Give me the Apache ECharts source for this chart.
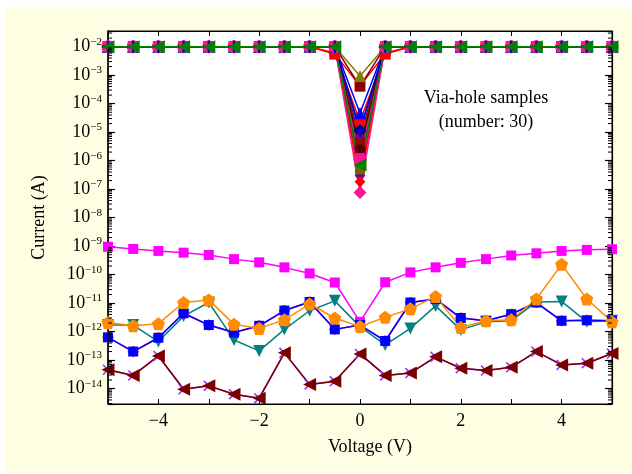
<!DOCTYPE html>
<html><head><meta charset="utf-8">
<script src="https://cdn.jsdelivr.net/npm/echarts@6/dist/echarts.min.js"></script>
<style>html,body{margin:0;padding:0;background:#fff}#c{width:632px;height:474px}</style>
</head><body><div id="c"></div><script>
const voltages = [-5,-4.5,-4,-3.5,-3,-2.5,-2,-1.5,-1,-0.5,0,0.5,1,1.5,2,2.5,3,3.5,4,4.5,5];
const P = 1e-2;
// Upper cluster (23 samples): saturated ~1e-2 except near 0 V
const top01 = [P,P,P,P,P,P,P,P,P,5.5e-3,4.2e-4,5.5e-3,P,P,P,P,P,P,P,P,P];
const top02 = [P,P,P,P,P,P,P,P,P,P,4.0e-4,P,P,P,P,P,P,P,P,P,P];
const top03 = [P,P,P,P,P,P,P,P,P,P,9.3e-4,P,P,P,P,P,P,P,P,P,P];
const top04 = [P,P,P,P,P,P,P,P,P,P,4.6e-5,P,P,P,P,P,P,P,P,P,P];
const top05 = [P,P,P,P,P,P,P,P,P,6.0e-3,2.3e-5,6.0e-3,P,P,P,P,P,P,P,P,P];
const top06 = [P,P,P,P,P,P,P,P,P,P,1.2e-5,P,P,P,P,P,P,P,P,P,P];
const top07 = [P,P,P,P,P,P,P,P,P,P,6.0e-6,P,P,P,P,P,P,P,P,P,P];
const top08 = [P,P,P,P,P,P,P,P,P,P,4.0e-6,P,P,P,P,P,P,P,P,P,P];
const top09 = [P,P,P,P,P,P,P,P,P,P,3.0e-6,P,P,P,P,P,P,P,P,P,P];
const top10 = [P,P,P,P,P,P,P,P,P,P,2.0e-6,P,P,P,P,P,P,P,P,P,P];
const top11 = [P,P,P,P,P,P,P,P,P,P,1.5e-6,P,P,P,P,P,P,P,P,P,P];
const top12 = [P,P,P,P,P,P,P,P,P,P,1.0e-6,P,P,P,P,P,P,P,P,P,P];
const top13 = [P,P,P,P,P,P,P,P,P,P,8.0e-7,P,P,P,P,P,P,P,P,P,P];
const top14 = [P,P,P,P,P,P,P,P,P,P,6.0e-7,P,P,P,P,P,P,P,P,P,P];
const top15 = [P,P,P,P,P,P,P,P,P,P,4.0e-7,P,P,P,P,P,P,P,P,P,P];
const top16 = [P,P,P,P,P,P,P,P,P,P,3.0e-7,P,P,P,P,P,P,P,P,P,P];
const top17 = [P,P,P,P,P,P,P,P,P,P,7.6e-8,P,P,P,P,P,P,P,P,P,P];
const top18 = [P,P,P,P,P,P,P,P,P,P,1.8e-7,P,P,P,P,P,P,P,P,P,P];
const top19 = [P,P,P,P,P,P,P,P,P,P,5.0e-7,P,P,P,P,P,P,P,P,P,P];
const top20 = [P,P,P,P,P,P,P,P,P,P,2.5e-6,P,P,P,P,P,P,P,P,P,P];
const top21 = [P,P,P,P,P,P,P,P,P,P,1.1e-5,P,P,P,P,P,P,P,P,P,P];
const top22 = [P,P,P,P,P,P,P,P,P,P,1.1e-6,P,P,P,P,P,P,P,P,P,P];
const top23 = [P,P,P,P,P,P,P,P,P,P,7.0e-7,P,P,P,P,P,P,P,P,P,P];
// Lower cluster (7 samples)
const magentaSq = [9.5e-10,8e-10,6.8e-10,5.9e-10,4.9e-10,3.5e-10,2.7e-10,1.8e-10,1.1e-10,5.3e-11,2.2e-12,5.4e-11,1.2e-10,1.8e-10,2.6e-10,3.5e-10,4.7e-10,5.6e-10,6.8e-10,7.4e-10,7.8e-10];
const tealTri = [1.7e-12,1.7e-12,4.5e-13,3.5e-12,1.05e-11,5.1e-13,2.1e-13,1.2e-12,5.4e-12,1.2e-11,1.5e-12,3.4e-13,1.3e-12,8e-12,1.15e-12,2.2e-12,2.4e-12,1.1e-11,1.15e-11,2.2e-12,2.4e-12];
const pinkPlus = [6.3e-13,2e-13,6.1e-13,4.4e-12,1.7e-12,9.3e-13,1.6e-12,5.5e-12,1.1e-11,1.2e-12,1.7e-12,4.7e-13,1.05e-11,1.4e-11,3e-12,2.4e-12,4.1e-12,1.05e-11,2.4e-12,2.5e-12,2.4e-12];
const blueSq = [6.3e-13,2e-13,6.1e-13,4.4e-12,1.7e-12,9.3e-13,1.6e-12,5.5e-12,1.1e-11,1.2e-12,1.7e-12,4.7e-13,1.05e-11,1.4e-11,3e-12,2.4e-12,4.1e-12,1.05e-11,2.4e-12,2.5e-12,2.4e-12];
const orangePent = [2.1e-12,1.6e-12,1.9e-12,1.05e-11,1.3e-11,1.8e-12,1.3e-12,2.6e-12,9.3e-12,3e-12,1.5e-12,3.2e-12,6.3e-12,1.7e-11,1.4e-12,2.4e-12,2.6e-12,1.4e-11,2.3e-10,1.4e-11,2.2e-12];
const purpleX = [4.6e-14,2.9e-14,1.4e-13,9.5e-15,1.25e-14,6.3e-15,4.6e-15,1.8e-13,1.4e-14,1.8e-14,1.65e-13,2.9e-14,3.5e-14,1.3e-13,5.2e-14,4.3e-14,5.6e-14,2e-13,6.8e-14,7.8e-14,1.7e-13];
const darkRedTri = [4.6e-14,2.9e-14,1.4e-13,9.5e-15,1.25e-14,6.3e-15,4.6e-15,1.8e-13,1.4e-14,1.8e-14,1.65e-13,2.9e-14,3.5e-14,1.3e-13,5.2e-14,4.3e-14,5.6e-14,2e-13,6.8e-14,7.8e-14,1.7e-13];

const xMin = -5, xMax = 5;
const yMinExp = -14.54, yMaxExp = -1.45;
const yMin = Math.pow(10, yMinExp), yMax = Math.pow(10, yMaxExp);

const PENT = 'path://M0,-10 L9.51,-3.09 L5.88,8.09 L-5.88,8.09 L-9.51,-3.09 Z';
const XMARK = 'path://M-5,-4 L-4,-5 L0,-1 L4,-5 L5,-4 L1,0 L5,4 L4,5 L0,1 L-4,5 L-5,4 L-1,0 Z';
const PLUS = 'path://M-1,-5 H1 V-1 H5 V1 H1 V5 H-1 V1 H-5 V-1 H-1 Z';

function mk(data, color, symbol, size, rot, lw) {
  return {
    type: 'line', xAxisIndex: 0, yAxisIndex: 0,
    data: voltages.map((v, i) => [v, data[i]]),
    symbol: symbol, symbolSize: size, symbolRotate: rot || 0,
    lineStyle: {color: color, width: lw || 1.5},
    itemStyle: {color: color},
    showSymbol: true, animation: false, clip: false
  };
}

const series = [
  mk(top01, '#FF0000', 'rect', 11),
  mk(top05, '#FF0000', 'circle', 12),
  mk(top02, '#8B0000', 'rect', 10),
  mk(top03, '#808000', 'triangle', 12),
  mk(top04, '#0000FF', 'triangle', 12),
  mk(top06, '#000080', 'diamond', 12),
  mk(top07, '#800080', 'circle', 10),
  mk(top08, '#A00000', 'rect', 10),
  mk(top09, '#006400', 'triangle', 11),
  mk(top10, '#800000', 'triangle', 11, 90),
  mk(top11, '#FF00FF', 'circle', 10),
  mk(top12, '#000080', 'rect', 10),
  mk(top13, '#0000FF', 'circle', 10),
  mk(top14, '#008080', 'triangle', 11),
  mk(top15, '#808000', 'triangle', 11, 180),
  mk(top16, '#800080', 'diamond', 11),
  mk(top18, '#FF0000', 'diamond', 11),
  mk(top19, '#6B6B00', 'rect', 10),
  mk(top20, '#5A0000', 'circle', 10),
  mk(top17, '#FF1493', 'diamond', 13),
  mk(top22, '#FF1493', 'circle', 13),
  mk(top21, '#0000CC', PLUS, 12),
  mk(top23, '#008000', 'triangle', 13, 90),
  mk(magentaSq, '#FF00FF', 'rect', 10),
  mk(tealTri, '#008080', 'triangle', 12, 180),
  mk(pinkPlus, '#FF1493', PLUS, 11),
  mk(blueSq, '#0000FF', 'rect', 10),
  mk(orangePent, '#FF8C00', PENT, 13),
  mk(purpleX, '#9B30FF', XMARK, 11),
  mk(darkRedTri, '#7A0000', 'triangle', 13, 90)
];

const minorTickValues = [];
for (let e = -15; e <= -1; e++) for (let m = 2; m <= 9; m++) {
  const v = m * Math.pow(10, e);
  if (v > yMin && v < yMax) minorTickValues.push(v);
}
series.push({
  type: 'custom', xAxisIndex: 0, yAxisIndex: 0, silent: true, z: 20, animation: false, clip: false,
  data: minorTickValues.map(v => [0, v]),
  renderItem: function (params, api) {
    const v = api.value(1);
    const l = api.coord([xMin, v]);
    const r = api.coord([xMax, v]);
    return {type: 'group', children: [
      {type: 'line', shape: {x1: l[0], y1: l[1], x2: l[0] + 4, y2: l[1]}, style: {stroke: '#000', lineWidth: 1}},
      {type: 'line', shape: {x1: r[0] - 4, y1: r[1], x2: r[0], y2: r[1]}, style: {stroke: '#000', lineWidth: 1}}
    ]};
  }
});

const FONT = 'Liberation Serif';
const xLabel = v => (Math.round(v) % 2 === 0) ? (v < 0 ? '\u2212' + (-v) : String(v)) : '';
const yLabel = v => {
  const r = Math.round(v);
  if (Math.abs(v - r) > 1e-6) return '';
  return '{b|10}{s|\u2212' + Math.abs(r) + '}';
};

const chart = echarts.init(document.getElementById('c'), null, {renderer: 'canvas'});
chart.setOption({
  animation: false,
  backgroundColor: '#fff',
  graphic: [
    {type: 'rect', shape: {x: 6, y: 7, width: 626, height: 467}, style: {fill: '#FEFEE3'}, z: -10, silent: true},
    {type: 'text', x: 486, y: 110, z: 50, style: {text: 'Via-hole samples\n(number: 30)', font: '18px "Liberation Serif"', fill: '#000', textAlign: 'center', textVerticalAlign: 'middle', lineHeight: 24}},
    {type: 'text', x: 370, y: 447, z: 50, style: {text: 'Voltage (V)', font: '18px "Liberation Serif"', fill: '#000', textAlign: 'center', textVerticalAlign: 'middle'}}
  ],
  grid: {left: 108, right: 20, top: 31, bottom: 70, show: true, backgroundColor: '#fff', borderColor: '#000', borderWidth: 1, z: 0},
  xAxis: [
    {type: 'value', min: xMin, max: xMax, interval: 1, position: 'bottom',
     axisLine: {onZero: false, lineStyle: {color: '#000', width: 1.2}},
     axisTick: {inside: true, length: 5, lineStyle: {color: '#000'}},
     axisLabel: {formatter: xLabel, color: '#000', fontFamily: FONT, fontSize: 18, margin: 8},
     splitLine: {show: false}},
    {type: 'value', min: xMin, max: xMax, interval: 1, position: 'top',
     axisLine: {onZero: false, lineStyle: {color: '#000', width: 1.2}},
     axisTick: {inside: true, length: 5, lineStyle: {color: '#000'}},
     axisLabel: {show: false}, splitLine: {show: false}}
  ],
  yAxis: [
    {type: 'log', logBase: 10, min: yMin, max: yMax, position: 'left',
     axisLine: {show: false, onZero: false}, axisTick: {show: false}, axisLabel: {show: false}, splitLine: {show: false}},
    {type: 'value', min: yMinExp, max: yMaxExp, minInterval: 1, maxInterval: 1, splitNumber: 13, position: 'left',
     axisLine: {show: true, onZero: false, lineStyle: {color: '#000', width: 1.5}},
     axisTick: {inside: true, length: 7, lineStyle: {color: '#000', width: 1.2}},
     axisLabel: {formatter: yLabel, margin: 6, color: '#000', fontFamily: FONT,
       rich: {b: {fontFamily: FONT, fontSize: 18, color: '#000', lineHeight: 20},
              s: {fontFamily: FONT, fontSize: 11, color: '#000', lineHeight: 11, padding: [0, 0, 10, 0]}}},
     splitLine: {show: false},
     name: 'Current (A)', nameLocation: 'middle', nameGap: 60,
     nameTextStyle: {fontFamily: FONT, fontSize: 18, color: '#000'}},
    {type: 'value', min: yMinExp, max: yMaxExp, minInterval: 1, maxInterval: 1, splitNumber: 13, position: 'right',
     axisLine: {show: true, onZero: false, lineStyle: {color: '#000', width: 1.2}},
     axisTick: {inside: true, length: 7, lineStyle: {color: '#000', width: 1.2}},
     axisLabel: {show: false}, splitLine: {show: false}}
  ],
  series: series
});
</script></body></html>
